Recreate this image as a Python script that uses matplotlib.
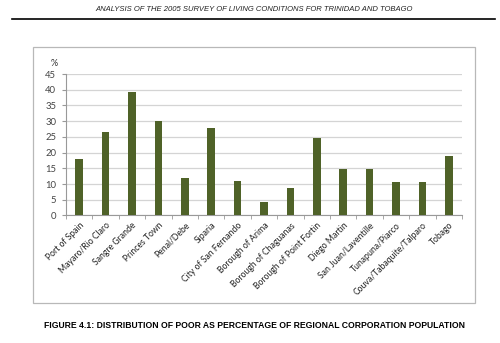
import matplotlib.pyplot as plt
from matplotlib.patches import Rectangle
from matplotlib.lines import Line2D
import numpy as np

regions = [
    "Port of Spain", "Mayaro/Rio Claro", "Sangre Grande", "Princes Town",
    "Penal/Debe", "Siparia", "City of San Fernando", "Borough of Arima",
    "Borough of Chaguanas", "Borough of Point Fortin", "Diego Martin",
    "San Juan/Laventille", "Tunapuna/Piarco", "Couva/Tabaquite/Talparo", "Tobago",
]
poor_pct = [18.0, 26.6, 39.2, 30.0, 12.0, 27.7, 11.0, 4.3,
            8.8, 24.5, 14.9, 14.7, 10.5, 10.5, 18.9]
yticks = list(range(0, 50, 5))

BAR_COLOR = "#4f6228"
GRID = "#d4d4d4"


def main():
    fig = plt.figure(figsize=(5, 3.43), dpi=100)

    # page header
    fig.text(0.508, 0.971, "ANALYSIS OF THE 2005 SURVEY OF LIVING CONDITIONS FOR TRINIDAD AND TOBAGO",
             ha="center", va="center", fontsize=5.5, style="italic",
             family="Liberation Sans", color="#222222")
    fig.add_artist(Line2D([12 / 500, 495 / 500], [0.945, 0.945], color="black", lw=1.2))

    # chart frame
    fig.add_artist(Rectangle((0.066, 0.117), 0.884, 0.746, transform=fig.transFigure,
                             fill=False, edgecolor="#b8b8b8", lw=0.9))

    ax = fig.add_axes([0.132, 0.372, 0.792, 0.412])
    x = np.arange(len(regions))
    ax.bar(x, poor_pct, width=0.29, color=BAR_COLOR, zorder=3)

    ax.set_xlim(-0.5, len(regions) - 0.5)
    ax.set_ylim(0, 45)
    ax.set_yticks(yticks)
    ax.set_yticklabels([str(v) for v in yticks], fontsize=6.8, color="#444444",
                       family="Lato")
    ax.yaxis.grid(True, color=GRID, lw=0.9, zorder=0)

    ax.set_xticks(x)
    ax.set_xticklabels(regions, rotation=45, ha="right", rotation_mode="anchor",
                       fontsize=6.2, family="Lato", color="#222222")
    ax.tick_params(axis="x", length=0, pad=4)
    ax.set_xticks(np.arange(-0.5, len(regions), 1), minor=True)
    ax.tick_params(axis="x", which="minor", length=3, color="#999999", direction="out")
    ax.tick_params(axis="y", length=3, color="#999999", pad=4)

    for s in ["top", "right"]:
        ax.spines[s].set_visible(False)
    ax.spines["left"].set_color("#999999")
    ax.spines["bottom"].set_color("#999999")
    ax.spines["left"].set_linewidth(0.8)
    ax.spines["bottom"].set_linewidth(0.8)

    fig.text(54 / 500, 1 - 64 / 343, "%", ha="center", va="center",
             fontsize=6.5, family="Lato", color="#333333")

    # caption
    fig.text(0.508, 0.05, "FIGURE 4.1: DISTRIBUTION OF POOR AS PERCENTAGE OF REGIONAL CORPORATION POPULATION",
             ha="center", va="center", fontsize=6.2, weight="bold",
             family="Liberation Sans", color="black")

    plt.savefig("out.png", dpi=100)


if __name__ == "__main__":
    main()
